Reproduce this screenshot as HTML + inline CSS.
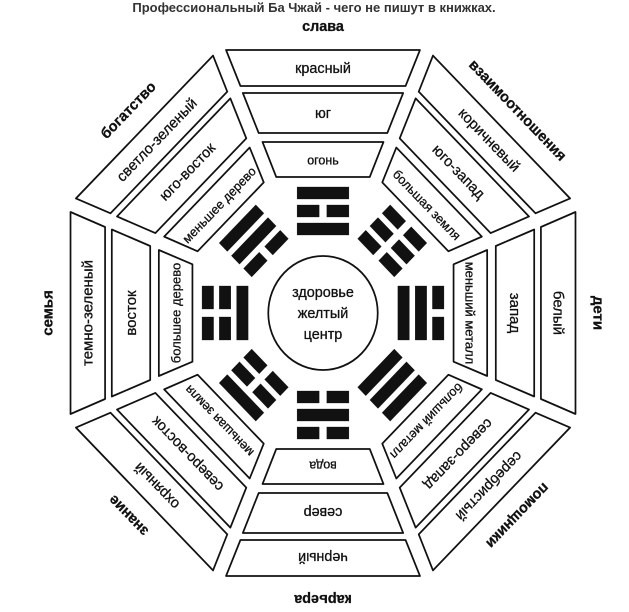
<!DOCTYPE html>
<html><head><meta charset="utf-8"><style>
html,body{margin:0;padding:0;background:#fff;}
svg{display:block;}
text{font-family:"Liberation Sans",sans-serif;fill:#111;}
.i{font-size:13px;}
</style></head><body>
<svg width="629" height="612" viewBox="0 0 629 612" xmlns="http://www.w3.org/2000/svg">
<defs>
<g id="bands" fill="#fff" stroke="#111" stroke-width="1.8" stroke-linejoin="round">
<polygon points="225,50 427,50 412,86 240,86"/>
<polygon points="242.5,93 409.5,93 393,133 259,133"/>
<polygon points="263,142 389,142 374.7,177 277.3,177"/>
</g>
<rect id="S" width="54" height="12" fill="#111"/>
<g id="B"><rect width="23" height="12" fill="#111"/><rect x="31" width="23" height="12" fill="#111"/></g>
</defs>
<text x="314" y="12" text-anchor="middle" font-size="13" font-weight="bold" style="fill:#333">Профессиональный Ба Чжай - чего не пишут в книжках.</text>

<g transform="translate(323 0) scale(0.96 1) translate(-326 0)">
<g font-size="15" text-anchor="middle" dominant-baseline="central" stroke="#111" stroke-width="0.3">
<g transform="rotate(0 326 313)"><use href="#bands"/>
<text x="326" y="27" font-weight="bold">слава</text><text x="326" y="69">красный</text><text x="326" y="114">юг</text><text class="i" x="326" y="160">огонь</text>
<use href="#S" x="299" y="187"/><use href="#B" x="299" y="205"/><use href="#S" x="299" y="223"/></g>
<g transform="rotate(45 326 313)"><use href="#bands"/>
<text x="326" y="27" font-weight="bold">взаимоотношения</text><text x="326" y="69">коричневый</text><text x="326" y="114">юго-запад</text><text class="i" x="326" y="160">большая земля</text>
<use href="#B" x="299" y="187"/><use href="#B" x="299" y="205"/><use href="#B" x="299" y="223"/></g>
<g transform="rotate(90 326 313)"><use href="#bands"/>
<text x="326" y="27" font-weight="bold">дети</text><text x="326" y="69">белый</text><text x="326" y="114">запад</text><text class="i" x="326" y="160">меньший металл</text>
<use href="#B" x="299" y="187"/><use href="#S" x="299" y="205"/><use href="#S" x="299" y="223"/></g>
<g transform="rotate(135 326 313)"><use href="#bands"/>
<text x="326" y="27" font-weight="bold">помощники</text><text x="326" y="69">серебристый</text><text x="326" y="114">северо-запад</text><text class="i" x="326" y="160">больший металл</text>
<use href="#S" x="299" y="187"/><use href="#S" x="299" y="205"/><use href="#S" x="299" y="223"/></g>
<g transform="rotate(180 326 313)"><use href="#bands"/>
<text x="326" y="27" font-weight="bold">карьера</text><text x="326" y="69">черный</text><text x="326" y="114">север</text><text class="i" x="326" y="160">вода</text>
<use href="#B" x="299" y="187"/><use href="#S" x="299" y="205"/><use href="#B" x="299" y="223"/></g>
<g transform="rotate(225 326 313)"><use href="#bands"/>
<text x="326" y="27" font-weight="bold">знание</text><text x="326" y="69">охряный</text><text x="326" y="114">северо-восток</text><text class="i" x="326" y="160">меньшая земля</text>
<use href="#S" x="299" y="187"/><use href="#B" x="299" y="205"/><use href="#B" x="299" y="223"/></g>
<g transform="rotate(270 326 313)"><use href="#bands"/>
<text x="326" y="27" font-weight="bold">семья</text><text x="326" y="69">темно-зеленый</text><text x="326" y="114">восток</text><text class="i" x="326" y="160">большее дерево</text>
<use href="#B" x="299" y="187"/><use href="#B" x="299" y="205"/><use href="#S" x="299" y="223"/></g>
<g transform="rotate(315 326 313)"><use href="#bands"/>
<text x="326" y="27" font-weight="bold">богатство</text><text x="326" y="69">светло-зеленый</text><text x="326" y="114">юго-восток</text><text class="i" x="326" y="160">меньшее дерево</text>
<use href="#S" x="299" y="187"/><use href="#S" x="299" y="205"/><use href="#B" x="299" y="223"/></g>

<circle cx="326" cy="313" r="57" fill="#fff" stroke="#111" stroke-width="1.8"/>
<text x="326" y="293">здоровье</text>
<text x="326" y="314">желтый</text>
<text x="326" y="335">центр</text>
</g>
</g>
</svg>
</body></html>
